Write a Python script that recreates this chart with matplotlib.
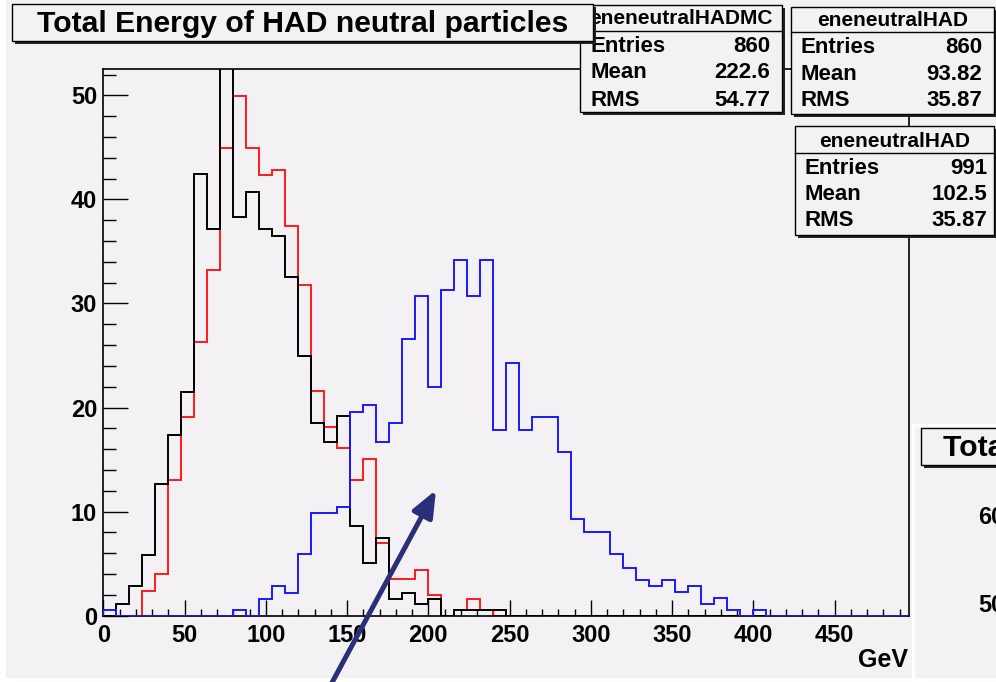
import numpy as np
import matplotlib
matplotlib.use("Agg")
import matplotlib.pyplot as plt
from matplotlib.patches import Rectangle

plt.rcParams['font.family'] = ['Liberation Sans', 'DejaVu Sans']
plt.rcParams['font.weight'] = 'bold'

# ---------------- data ----------------
bin_width = 8
n_bins = 62
x_max = 496
y_max = 52.5

# eneneutralHAD (black)
hist_black = [0, 1.1, 2.9, 5.8, 12.7, 17.4, 21.5, 42.4, 37.2, 56.0,
              38.3, 40.7, 37.2, 36.5, 32.5, 25.0, 18.5, 16.7, 19.2, 8.6,
              5.1, 7.5, 1.6, 2.2, 1.1, 1.6, 0, 0.5, 0.5, 0.5,
              0.5] + [0] * 31
# eneneutralHAD (red)
hist_red = [0, 0, 0, 2.4, 4.0, 13.0, 19.1, 26.3, 33.2, 44.9,
            49.9, 44.9, 42.3, 42.8, 37.4, 31.8, 21.6, 18.1, 16.1, 13.0,
            15.1, 7.0, 3.5, 3.5, 4.4, 2.0, 0, 0.5, 1.6, 0.5,
            0] + [0] * 31
# eneneutralHADMC (blue)
hist_mc = [0.5, 0, 0, 0, 0, 0, 0, 0, 0, 0,
           0.55, 0, 1.6, 2.9, 2.2, 5.9, 9.9, 9.9, 10.4, 19.6,
           20.2, 16.7, 18.5, 26.6, 30.7, 22.0, 31.3, 34.2, 30.7, 34.2,
           17.8, 24.3, 17.8, 19.1, 19.1, 15.7, 9.3, 8.0, 8.0, 5.9,
           4.6, 3.4, 2.9, 3.4, 2.3, 2.9, 1.1, 1.7, 0.57, 0,
           0.57] + [0] * 11

x_ticks = [0, 50, 100, 150, 200, 250, 300, 350, 400, 450]
y_ticks = [0, 10, 20, 30, 40, 50]

title = "Total Energy of HAD neutral particles"
x_unit = "GeV"

stat_names = ["eneneutralHADMC", "eneneutralHAD", "eneneutralHAD"]
stat_entries = ["860", "860", "991"]
stat_means = ["222.6", "93.82", "102.5"]
stat_rms = ["54.77", "35.87", "35.87"]

# ---------------- layout ----------------
W, H = 996, 682
BG = '#f4f1f5'
fig = plt.figure(figsize=(W / 100, H / 100), dpi=100, facecolor='white')

def fx(x):
    return x / W

def fy(y):
    return 1 - y / H

# background axes
bg = fig.add_axes([0, 0, 1, 1], zorder=0)
bg.set_xlim(0, W); bg.set_ylim(H, 0); bg.axis('off')
bg.add_patch(Rectangle((6, 0), W - 6, 678, facecolor=BG, edgecolor='none'))

# main axes
L, R, T, B = 103.3, 909.3, 69.3, 615.7
ax = fig.add_axes([fx(L), fy(B), (R - L) / W, (B - T) / H], zorder=1)
ax.set_facecolor('none')
edges = np.arange(0, x_max + 1, bin_width)
ax.stairs(hist_red, edges, baseline=0, color='#ff1a1a', lw=1.4, zorder=2)
ax.stairs(hist_black, edges, baseline=0, color='black', lw=1.4, zorder=3)
ax.stairs(hist_mc, edges, baseline=0, color='#1a1aff', lw=1.4, zorder=4)
ax.set_xlim(0, x_max)
ax.set_ylim(0, y_max)
ax.set_xticks(x_ticks)
ax.set_xticks(np.arange(0, x_max + 1, 10), minor=True)
ax.set_yticks(y_ticks)
ax.set_yticks(np.arange(0, y_max, 2), minor=True)
ax.tick_params(axis='both', which='both', direction='in', width=1.0, color='black')
ax.tick_params(axis='x', which='major', length=11.5, pad=6, labelsize=17)
ax.tick_params(axis='x', which='minor', length=5.4)
ax.tick_params(axis='y', which='major', length=18, pad=4.5, labelsize=17)
ax.tick_params(axis='y', which='minor', length=9)
for lab in ax.get_xticklabels() + ax.get_yticklabels():
    lab.set_fontweight('bold')
for sp in ax.spines.values():
    sp.set_linewidth(1.2)

# overlay axes for boxes, text and arrow
ov = fig.add_axes([0, 0, 1, 1], zorder=5)
ov.set_xlim(0, W); ov.set_ylim(H, 0); ov.axis('off')
ov.patch.set_alpha(0)

ov.text(908, 660, x_unit, ha='right', va='center', fontsize=18, fontweight='bold')

def pave(x0, y0, x1, y1, z=5):
    ov.add_patch(Rectangle((x0 + 3, y0 + 3), x1 - x0, y1 - y0, facecolor='#222222',
                           edgecolor='none', zorder=z))
    ov.add_patch(Rectangle((x0, y0), x1 - x0, y1 - y0, facecolor=BG,
                           edgecolor='black', lw=1.0, zorder=z + 0.1))

# stats boxes
boxes = [
    dict(x0=580, x1=782, y0=5, yh=31, y1=112, ycen=[47, 73, 100], yhead=18.5, lx=590, rx=770),
    dict(x0=791, x1=994, y0=6.5, yh=32, y1=113.5, ycen=[47.5, 74, 100.5], yhead=20, lx=801, rx=982),
    dict(x0=795, x1=994, y0=126, yh=152.5, y1=235, ycen=[169, 195, 221], yhead=141.5, lx=805, rx=987),
]
for i, b in enumerate(boxes):
    pave(b['x0'], b['y0'], b['x1'], b['y1'], z=5 + i)
    ov.plot([b['x0'], b['x1']], [b['yh'], b['yh']], color='black', lw=1.0, zorder=5.2 + i)
    cx = (b['x0'] + b['x1']) / 2
    ov.text(cx, b['yhead'], stat_names[i], ha='center', va='center', fontsize=15,
            fontweight='bold', zorder=5.3 + i)
    for lab, val, yc in zip(["Entries", "Mean", "RMS"],
                            [stat_entries[i], stat_means[i], stat_rms[i]], b['ycen']):
        ov.text(b['lx'], yc, lab, ha='left', va='center', fontsize=16, fontweight='bold', zorder=5.3 + i)
        ov.text(b['rx'], yc, val, ha='right', va='center', fontsize=16, fontweight='bold', zorder=5.3 + i)

# title box (drawn on top of first stats box)
pave(12, 4, 593, 41, z=9)
ov.text(302.5, 23.5, title, ha='center', va='center', fontsize=21.7, fontweight='bold', zorder=9.5)

# partial neighbouring pad on the right
ov.add_patch(Rectangle((911.5, 424), 100, 300, facecolor='white', edgecolor='none', zorder=10))
ov.add_patch(Rectangle((915, 426.5), 100, 251.5, facecolor=BG, edgecolor='none', zorder=10.1))
ov.add_patch(Rectangle((924, 431), 200, 37, facecolor='#222222', edgecolor='none', zorder=10.2))
ov.add_patch(Rectangle((921, 428), 200, 37, facecolor=BG, edgecolor='black', lw=1.0, zorder=10.3))
ov.text(943, 448, title, ha='left', va='center', fontsize=21.7, fontweight='bold', zorder=10.4)
ov.text(978, 517, "60", ha='left', va='center', fontsize=17, fontweight='bold', zorder=10.4)
ov.text(978, 605, "50", ha='left', va='center', fontsize=17, fontweight='bold', zorder=10.4)

# arrow
ov.annotate('', xy=(436, 490), xytext=(328, 690),
            arrowprops=dict(arrowstyle='-|>,head_length=0.8,head_width=0.33',
                            mutation_scale=20, lw=3.6, color='#2b2f7a',
                            shrinkA=0, shrinkB=0),
            zorder=11)

fig.savefig('out.png', dpi=100, facecolor='white')
